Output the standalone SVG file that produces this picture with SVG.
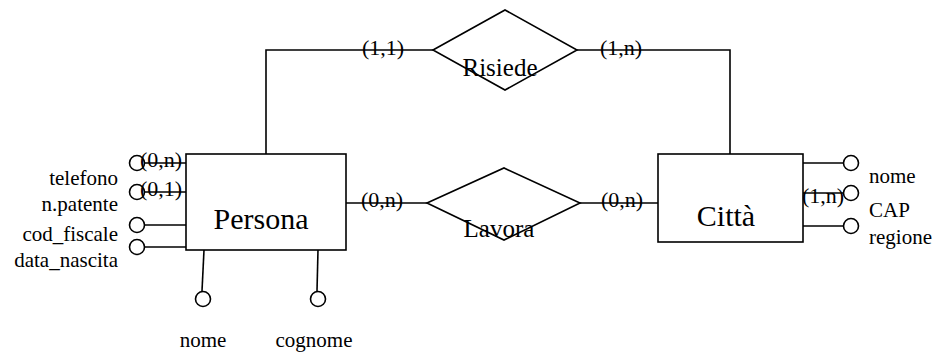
<svg xmlns="http://www.w3.org/2000/svg" width="938" height="353" viewBox="0 0 938 353">
<style>
.s{fill:none;stroke:#000;stroke-width:1.6}
.b{fill:#fff;stroke:#000;stroke-width:1.6}
text{font-family:"Liberation Serif","Times New Roman",serif;fill:#000}
.ent{font-size:30px;text-anchor:middle}
.rel{font-size:25px;text-anchor:middle}
.card{font-size:22px;text-anchor:middle}
.lab{font-size:21px}
</style>
<g id="connectors">
<polyline class="s" points="266,154 266,50 433,50"/>
<polyline class="s" points="577,50 730,50 730,154"/>
<line class="s" x1="346" y1="203" x2="427" y2="203"/>
<line class="s" x1="580" y1="203" x2="658" y2="203"/>
</g>
<g id="Persona">
<rect class="b" x="186" y="154" width="160" height="96"/>
<text class="ent" x="261" y="229">Persona</text>
</g>
<g id="Citta">
<rect class="b" x="658" y="154" width="145" height="88"/>
<text class="ent" x="726" y="226">Città</text>
</g>
<g id="Risiede">
<polygon class="b" points="433,50 505,10 577,50 505,90"/>
<text class="rel" x="500" y="76">Risiede</text>
</g>
<g id="Lavora">
<polygon class="b" points="427,203 504,168 580,203 504,240"/>
<text class="rel" x="499" y="237">Lavora</text>
</g>
<g id="cardinalities">
<text class="card" x="383" y="55">(1,1)</text>
<text class="card" x="621" y="55">(1,n)</text>
<text class="card" x="382" y="207">(0,n)</text>
<text class="card" x="622" y="207">(0,n)</text>
</g>
<g id="attr-telefono">
<line class="s" x1="145" y1="163" x2="186" y2="163"/>
<circle class="b" cx="137" cy="163" r="7.5"/>
<text class="card" x="161" y="167">(0,n)</text>
<text class="lab" x="118" y="185" text-anchor="end">telefono</text>
</g>
<g id="attr-npatente">
<line class="s" x1="145" y1="192" x2="186" y2="192"/>
<circle class="b" cx="137" cy="192" r="7.5"/>
<text class="card" x="161" y="196">(0,1)</text>
<text class="lab" x="118" y="211" text-anchor="end">n.patente</text>
</g>
<g id="attr-codfiscale">
<line class="s" x1="145" y1="225" x2="186" y2="225"/>
<circle class="b" cx="137" cy="225" r="7.5"/>
<text class="lab" x="118" y="241" text-anchor="end">cod_fiscale</text>
</g>
<g id="attr-datanascita">
<line class="s" x1="145" y1="247" x2="186" y2="247"/>
<circle class="b" cx="137" cy="247" r="7.5"/>
<text class="lab" x="118" y="267" text-anchor="end">data_nascita</text>
</g>
<g id="attr-nome-persona">
<line class="s" x1="204" y1="250" x2="202" y2="291"/>
<circle class="b" cx="203" cy="299" r="7.5"/>
<text class="lab" x="203" y="347" text-anchor="middle">nome</text>
</g>
<g id="attr-cognome">
<line class="s" x1="318" y1="250" x2="317" y2="291"/>
<circle class="b" cx="318" cy="299" r="7.5"/>
<text class="lab" x="314" y="347" text-anchor="middle">cognome</text>
</g>
<g id="attr-nome-citta">
<line class="s" x1="803" y1="163" x2="843" y2="163"/>
<circle class="b" cx="851" cy="163" r="7.5"/>
<text class="lab" x="869" y="183">nome</text>
</g>
<g id="attr-cap">
<line class="s" x1="803" y1="193" x2="843" y2="193"/>
<circle class="b" cx="851" cy="193" r="7.5"/>
<text class="card" x="823" y="203">(1,n)</text>
<text class="lab" x="869" y="217">CAP</text>
</g>
<g id="attr-regione">
<line class="s" x1="803" y1="226" x2="843" y2="226"/>
<circle class="b" cx="851" cy="226" r="7.5"/>
<text class="lab" x="869" y="244">regione</text>
</g>
</svg>
